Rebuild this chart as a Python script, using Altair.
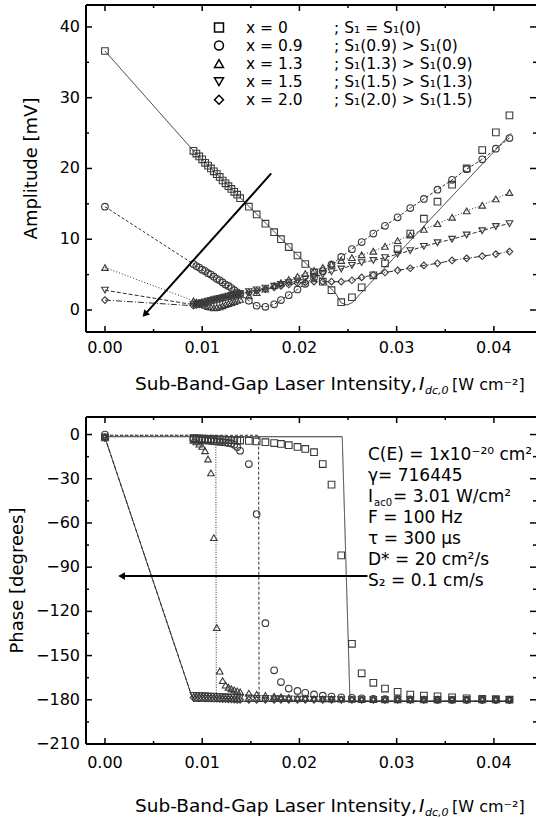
import altair as alt
import pandas as pd

FONT = "DejaVu Sans"

# ---------------- data ----------------
X = [0, 0.0091, 0.0094, 0.0097, 0.0100, 0.0103, 0.0106, 0.0109, 0.0112, 0.0115, 0.0118,
     0.0121, 0.0124, 0.0127, 0.0130, 0.0133, 0.0136, 0.0139, 0.0148, 0.0156, 0.0165,
     0.0174, 0.0181, 0.0189, 0.0198, 0.0206, 0.0215, 0.0224, 0.0233, 0.0243, 0.0254,
     0.0264, 0.0276, 0.0288, 0.0301, 0.0314, 0.0328, 0.0342, 0.0357, 0.0372, 0.0388,
     0.0402, 0.0416]

AMP_X00 = [36.6, 22.5, 22.1, 21.7, 21.3, 20.8, 20.4, 20.0, 19.6, 19.2, 18.8, 18.3, 17.9,
           17.5, 17.1, 16.7, 16.3, 15.8, 14.6, 13.5, 12.2, 11.0, 10.0, 8.9, 7.7, 6.5, 5.3,
           4.0, 2.8, 1.1, 1.8, 3.2, 4.9, 6.6, 8.6, 10.8, 12.9, 15.3, 17.7, 20.0, 22.6, 25.1, 27.5]
AMP_X09 = [14.6, 6.5, 6.2, 6.0, 5.7, 5.5, 5.2, 5.0, 4.7, 4.4, 4.2, 3.9, 3.6, 3.4, 3.1, 2.8,
           2.5, 2.2, 1.3, 0.6, 0.45, 0.8, 1.4, 2.1, 2.9, 3.7, 4.6, 5.5, 6.4, 7.5, 8.6, 9.6,
           10.8, 11.9, 13.1, 14.4, 15.7, 17.0, 18.4, 19.9, 21.3, 22.8, 24.3]
AMP_X13 = [6.0, 1.3, 1.1, 0.95, 0.8, 0.65, 0.5, 0.4, 0.3, 0.35, 0.45, 0.6, 0.75, 0.9, 1.05,
           1.2, 1.35, 1.5, 2.0, 2.45, 2.95, 3.45, 3.85, 4.3, 4.75, 5.15, 5.6, 6.0, 6.5, 7.0,
           7.4, 7.8, 8.3, 9.0, 9.8, 10.6, 11.4, 12.2, 13.1, 14.0, 14.8, 15.7, 16.6]
AMP_X15 = [2.8, 0.75, 0.85, 0.95, 1.05, 1.15, 1.25, 1.35, 1.45, 1.55, 1.65, 1.75, 1.85, 1.95,
           2.05, 2.15, 2.25, 2.35, 2.6, 2.85, 3.1, 3.35, 3.6, 3.85, 4.1, 4.4, 4.7, 5.0, 5.4,
           5.8, 6.3, 6.7, 7.0, 7.4, 7.9, 8.4, 9.0, 9.5, 10.0, 10.6, 11.2, 11.8, 12.2]
AMP_X20 = [1.4, 0.6, 0.7, 0.8, 0.9, 1.0, 1.1, 1.2, 1.3, 1.4, 1.5, 1.6, 1.7, 1.8, 1.9, 2.0,
           2.1, 2.2, 2.45, 2.7, 2.95, 3.2, 3.4, 3.6, 3.8, 3.9, 4.0, 4.0, 4.0, 4.0, 4.2, 4.6,
           4.95, 5.3, 5.6, 5.9, 6.3, 6.6, 7.0, 7.3, 7.6, 7.9, 8.25]

PH_X00 = [-2, -2.5, -2.6, -2.7, -2.8, -2.9, -3.0, -3.1, -3.2, -3.3, -3.4, -3.5, -3.6, -3.7,
          -3.8, -3.9, -4.0, -4.1, -4.3, -4.7, -5.2, -5.8, -6.4, -7.2, -8.4, -9.8, -12, -20,
          -34, -82, -142, -162, -168.5, -172.4, -174.6, -176.5, -177.1, -177.6, -178.3,
          -179.0, -179.4, -179.6, -179.8]
PH_X09 = [0, -3.2, -3.4, -3.6, -3.8, -4.0, -4.2, -4.4, -4.6, -4.8, -5.0, -5.2, -5.4, -5.7,
          -6.0, -7.0, -8.5, -11.0, -20.0, -54.0, -128.0, -160.0, -168.0, -172.4, -174.0,
          -175.3, -176.4, -177.2, -177.8, -178.3, -178.7, -179.0, -179.3, -179.5, -179.6,
          -179.7, -179.8, -179.9, -180, -180, -180, -180, -180]
PH_X13 = [-1.5, -4, -5, -6.5, -8, -11, -16.6, -26, -70, -131, -160.5, -167, -170, -171.5,
          -172.5, -173.3, -174, -174.6, -175.5, -176.3, -177, -177.6, -178, -178.4, -178.8,
          -179, -179.2, -179.4, -179.5, -179.6, -179.7, -179.8, -179.9, -180, -180, -180,
          -180, -180, -180, -180, -180, -180, -180]
PH_X15 = [-2, -177.0, -177.1, -177.2, -177.3, -177.4, -177.5, -177.6, -177.7, -177.8, -177.9,
          -178.0, -178.1, -178.2, -178.3, -178.4, -178.5, -178.6, -178.8, -179.0, -179.1,
          -179.2, -179.3, -179.4, -179.5, -179.6, -179.7, -179.8, -179.8, -179.9, -179.9,
          -180, -180, -180, -180, -180, -180, -180, -180, -180, -180, -180, -180]
PH_X20 = [-2.5, -178.5, -178.6, -178.7, -178.8, -178.9, -179.0, -179.1, -179.2, -179.3,
          -179.4, -179.5, -179.6, -179.7, -179.8, -179.9, -180, -180, -180, -180, -180, -180,
          -180, -180, -180, -180, -180, -180, -180, -180, -180, -180, -180, -180, -180, -180,
          -180, -180, -180, -180, -180, -180, -180]

# model curve for x = 0 (amplitude)
FIT_AMP_X = [0, 0.0091, 0.0237, 0.0243, 0.0249, 0.0255, 0.0262, 0.0418]
FIT_AMP_Y = [36.6, 22.5, 2.4, 1.0, 0.7, 1.1, 2.2, 25.0]
# model curves (phase)
FIT_PH_X = [[0, 0.0244, 0.0252, 0.0419], [0, 0.0158, 0.01585, 0.0419],
            [0, 0.0114, 0.01145, 0.0419], [0, 0.0091, 0.0419], [0, 0.0091, 0.0419]]
FIT_PH_Y = [[-1.5, -1.5, -181, -181], [-0.5, -0.5, -181, -181],
            [-0.5, -0.5, -181, -181], [-2, -181, -181], [-2, -181, -181]]

SERIES = ["x = 0", "x = 0.9", "x = 1.3", "x = 1.5", "x = 2.0"]
LEGEND_NOTE = ["; S\u2081 = S\u2081(0)", "; S\u2081(0.9) > S\u2081(0)",
               "; S\u2081(1.3) > S\u2081(0.9)", "; S\u2081(1.5) > S\u2081(1.3)",
               "; S\u2081(2.0) > S\u2081(1.5)"]
SHAPES = ["square", "circle", "triangle-up", "triangle-down", "diamond"]
DASH_AMP = [[1, 0], [3, 2], [1, 2], [4, 2], [6, 2, 1, 2]]
DASH_PH = [[1, 0], [3, 2], [1, 1.5], [4, 2], [1, 0]]

XMAJ = [0, 0.01, 0.02, 0.03, 0.04]
XLAB = ["0.00", "0.01", "0.02", "0.03", "0.04"]
XMIN = [0.005, 0.015, 0.025, 0.035]
YMAJ_A = [0, 10, 20, 30, 40]
YLAB_A = ["0", "10", "20", "30", "40"]
YMIN_A = [5, 15, 25, 35]
YMAJ_P = [0, -30, -60, -90, -120, -150, -180, -210]
YLAB_P = ["0", "-30", "-60", "-90", "-120", "-150", "-180", "-210"]
YMIN_P = [-15, -45, -75, -105, -135, -165, -195]

ARROW_A_X = [0.0171, 0.00411]
ARROW_A_Y = [19.3, -0.61]
ARROW_P_X = [0.0270, 0.00171]
ARROW_P_Y = [-96, -96]

# ---------------- layout ----------------
W, H = 450, 327
XDOM = [-0.00195, 0.04433]
YDOM_A = [-3.11, 43.1]
YDOM_P = [-210, 11.9]

ONE = pd.DataFrame({"k": [0]})
SHAPE_SCALE = alt.Scale(domain=SERIES, range=SHAPES)


def long_df(xs_list, ys_list):
    rows = []
    for s, xs, ys in zip(SERIES, xs_list, ys_list):
        for xv, yv in zip(xs, ys):
            rows.append({"x": xv, "y": yv, "series": s})
    return pd.DataFrame(rows)


def txt(s, x, y, size=17, align="left", style="normal", angle=0, baseline="alphabetic"):
    return alt.Chart(ONE).mark_text(
        text=s, align=align, baseline=baseline, font=FONT, fontSize=size,
        fontStyle=style, color="black", angle=angle
    ).encode(x=alt.value(x), y=alt.value(y))


def panel(ydom, pts_df, lines_df, dashes, ytitle, ymaj, ylab, ymin, ytitle_x,
          xlab_dy, title_dy, extra):
    xs = alt.Scale(domain=XDOM, nice=False, zero=False)
    ys = alt.Scale(domain=ydom, nice=False, zero=False)
    lines = alt.Chart(lines_df).mark_line(strokeWidth=1, color="#2e2e2e").encode(
        x=alt.X("x:Q", scale=xs, axis=None),
        y=alt.Y("y:Q", scale=ys, axis=None),
        detail="series:N",
        strokeDash=alt.StrokeDash("series:N", scale=alt.Scale(domain=SERIES, range=dashes),
                                  legend=None),
    )
    pts = alt.Chart(pts_df).mark_point(filled=False, size=44, strokeWidth=1.1,
                                       color="#3a3a3a", opacity=1).encode(
        x=alt.X("x:Q", scale=xs, axis=None),
        y=alt.Y("y:Q", scale=ys, axis=None),
        shape=alt.Shape("series:N", scale=SHAPE_SCALE, legend=None),
    )
    layers = [lines, pts]
    # inward ticks on all four sides
    for vals, L in ((XMAJ, 6), (XMIN, 3)):
        d = pd.DataFrame({"v": vals})
        for y1, y2 in ((H, H - L), (0, L)):
            layers.append(alt.Chart(d).mark_rule(color="black", strokeWidth=1.5).encode(
                x=alt.X("v:Q", scale=xs, axis=None), y=alt.value(y1), y2=alt.value(y2)))
    for vals, L in ((ymaj, 6), (ymin, 3)):
        d = pd.DataFrame({"v": vals})
        for x1, x2 in ((0, L), (W - L, W)):
            layers.append(alt.Chart(d).mark_rule(color="black", strokeWidth=1.5).encode(
                y=alt.Y("v:Q", scale=ys, axis=None), x=alt.value(x1), x2=alt.value(x2)))
    # frame: left, bottom, top
    layers.append(alt.Chart(ONE).mark_rule(color="black", strokeWidth=2).encode(
        x=alt.value(0), y=alt.value(0), y2=alt.value(H)))
    layers.append(alt.Chart(ONE).mark_rule(color="black", strokeWidth=2).encode(
        x=alt.value(0), x2=alt.value(W), y=alt.value(H)))
    layers.append(alt.Chart(ONE).mark_rule(color="black", strokeWidth=2).encode(
        x=alt.value(0), x2=alt.value(W), y=alt.value(0)))
    # tick labels
    dx = pd.DataFrame({"v": XMAJ, "t": XLAB})
    layers.append(alt.Chart(dx).mark_text(font=FONT, fontSize=16, color="black",
                                          align="center", baseline="alphabetic").encode(
        x=alt.X("v:Q", scale=xs, axis=None), y=alt.value(H + xlab_dy), text="t:N"))
    dy = pd.DataFrame({"v": ymaj, "t": [s.replace("-", "\u2212") for s in ylab]})
    layers.append(alt.Chart(dy).mark_text(font=FONT, fontSize=16, color="black",
                                          align="right", baseline="middle").encode(
        y=alt.Y("v:Q", scale=ys, axis=None), x=alt.value(-6), text="t:N"))
    # y title
    layers.append(txt(ytitle, ytitle_x, H / 2, size=18, align="center", angle=270,
                      baseline="middle"))
    # x title (italic symbol with subscript)
    ty = H + title_dy
    layers += [
        txt("Sub-Band-Gap Laser Intensity,", 331, ty, size=18.5, align="right"),
        txt("I", 333, ty, size=18.5, style="italic"),
        txt("dc,0", 339, ty + 4, size=11, style="italic"),
        txt("[W cm\u207b\u00b2]", 366, ty, size=16),
    ]
    for mk in extra:
        layers.append(mk(xs, ys))
    return alt.layer(*layers).resolve_scale(y="independent").properties(width=W, height=H)


def arrow(ax, ay, head_shape, head_angle):
    def mk(xs, ys):
        d = pd.DataFrame({"x": ax, "y": ay})
        line = alt.Chart(d).mark_line(color="black", strokeWidth=2).encode(
            x=alt.X("x:Q", scale=xs, axis=None), y=alt.Y("y:Q", scale=ys, axis=None))
        h = pd.DataFrame({"x": [ax[-1]], "y": [ay[-1]]})
        head = alt.Chart(h).mark_point(shape=head_shape, angle=head_angle, filled=True,
                                       size=60, color="black", opacity=1).encode(
            x=alt.X("x:Q", scale=xs, axis=None), y=alt.Y("y:Q", scale=ys, axis=None))
        return alt.layer(line, head)
    return mk


def legend_block(xs, ys):
    d = pd.DataFrame({"series": SERIES, "row": list(range(len(SERIES))), "note": LEGEND_NOTE})
    rs = alt.Scale(domain=[0, 4], range=[22.5, 94.7])
    sym = alt.Chart(d).mark_point(filled=False, size=80, strokeWidth=1.5, color="black",
                                  opacity=1).encode(
        x=alt.value(133), y=alt.Y("row:Q", scale=rs, axis=None),
        shape=alt.Shape("series:N", scale=SHAPE_SCALE, legend=None))
    c1 = alt.Chart(d).mark_text(font=FONT, fontSize=15.5, color="black", align="left",
                                baseline="middle").encode(
        x=alt.value(160), y=alt.Y("row:Q", scale=rs, axis=None), text="series:N")
    c2 = alt.Chart(d).mark_text(font=FONT, fontSize=15.5, color="black", align="left",
                                baseline="middle").encode(
        x=alt.value(248), y=alt.Y("row:Q", scale=rs, axis=None), text="note:N")
    return alt.layer(sym, c1, c2)


def annotation(xs, ys):
    x0 = 282
    return alt.layer(
        txt("C(E) = 1x10\u207b\u00b2\u2070 cm\u00b2", x0, 43),
        txt("\u03b3= 716445", x0, 64),
        txt("I", x0, 85),
        txt("ac0", x0 + 6, 89, size=10),
        txt("= 3.01 W/cm\u00b2", x0 + 25, 85),
        txt("F = 100 Hz", x0, 106),
        txt("\u03c4 = 300 \u00b5s", x0, 127),
        txt("D* = 20 cm\u00b2/s", x0, 148),
        txt("S\u2082 = 0.1 cm/s", x0, 169),
    )


AMP = [AMP_X00, AMP_X09, AMP_X13, AMP_X15, AMP_X20]
PH = [PH_X00, PH_X09, PH_X13, PH_X15, PH_X20]

amp_pts = long_df([X] * 5, AMP)
amp_lines = long_df([FIT_AMP_X] + [X] * 4, [FIT_AMP_Y] + AMP[1:])
ph_pts = long_df([X] * 5, PH)
ph_lines = long_df(FIT_PH_X, FIT_PH_Y)

top = panel(YDOM_A, amp_pts, amp_lines, DASH_AMP, "Amplitude [mV]", YMAJ_A, YLAB_A, YMIN_A,
            -54, 21, 58, [arrow(ARROW_A_X, ARROW_A_Y, "triangle-up", 222), legend_block])
bottom = panel(YDOM_P, ph_pts, ph_lines, DASH_PH, "Phase [degrees]", YMAJ_P, YLAB_P, YMIN_P,
               -68, 24, 68, [arrow(ARROW_P_X, ARROW_P_Y, "triangle-left", 0), annotation])

chart = alt.vconcat(top, bottom, spacing=85, bounds="flush").resolve_scale(
    shape="independent", strokeDash="independent"
).properties(
    padding={"left": 9, "top": 4, "right": 0, "bottom": 0}, background="white"
).configure_view(stroke=None)

chart.save("out.html", embed_options={"renderer": "svg", "actions": False})
